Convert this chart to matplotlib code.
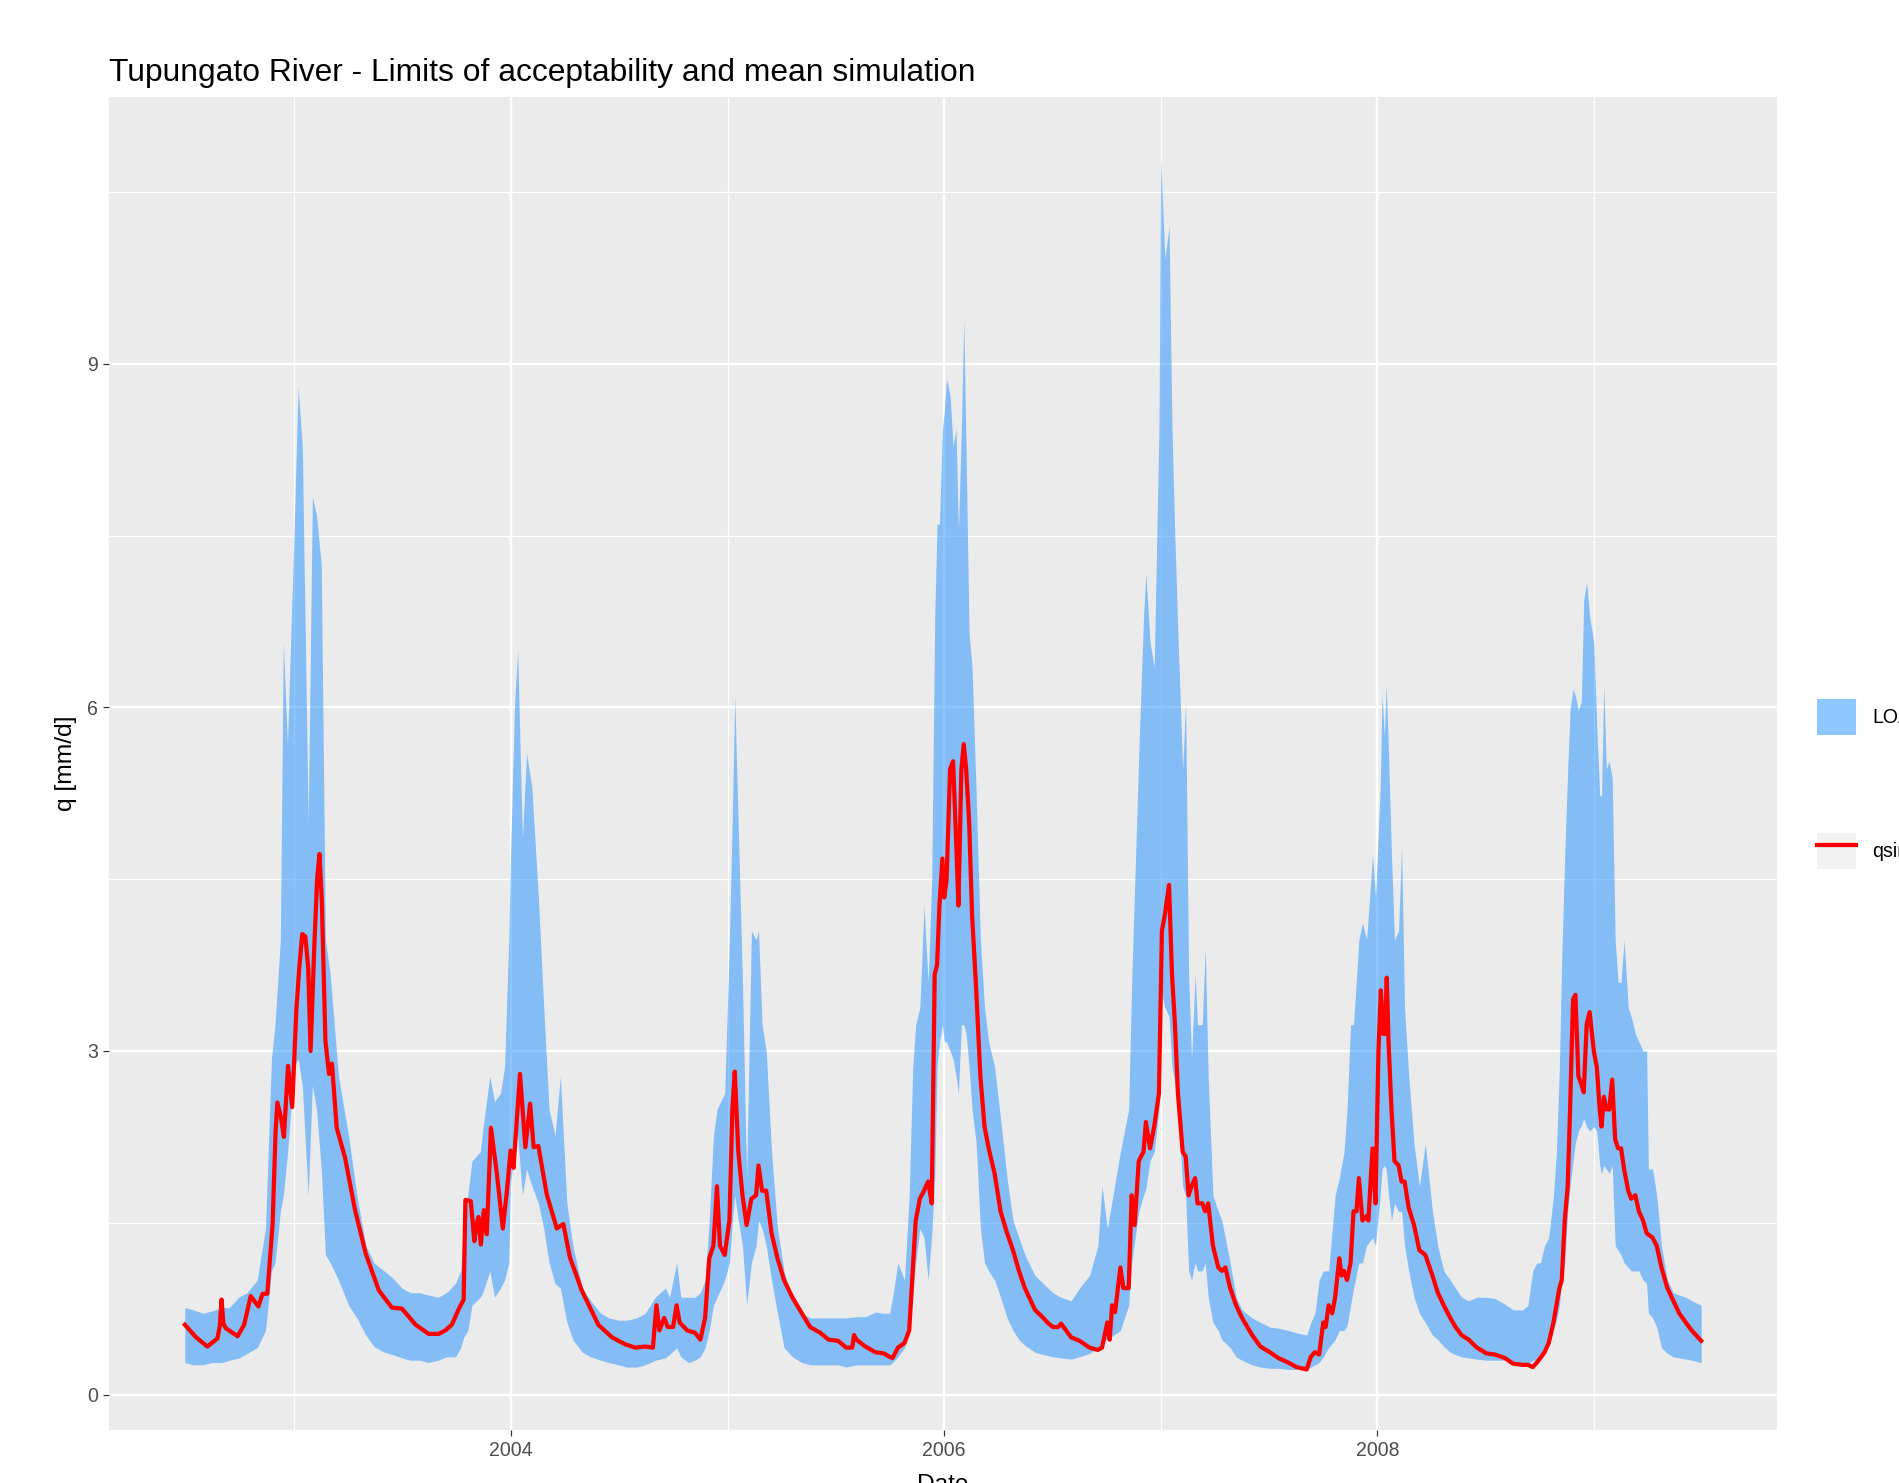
import matplotlib
matplotlib.use("Agg")
import matplotlib.pyplot as plt
import matplotlib.dates as mdates
from matplotlib.patches import Patch
from matplotlib.lines import Line2D
from matplotlib.ticker import MultipleLocator
import pandas as pd

# limits of acceptability (band): date, lower, upper  [mm/d]
band_dates = [
    "2002-07-01", "2002-07-15", "2002-08-01", "2002-08-15", "2002-09-01", "2002-09-14",
    "2002-09-30", "2002-10-14", "2002-10-31", "2002-11-14", "2002-11-24", "2002-11-30",
    "2002-12-09", "2002-12-14", "2002-12-21", "2003-01-01", "2003-01-08", "2003-01-15",
    "2003-01-25", "2003-02-01", "2003-02-08", "2003-02-16", "2003-02-23", "2003-03-03",
    "2003-03-17", "2003-04-03", "2003-04-17", "2003-05-02", "2003-05-16", "2003-06-02",
    "2003-06-16", "2003-07-02", "2003-07-16", "2003-08-01", "2003-08-15", "2003-09-01",
    "2003-09-15", "2003-09-30", "2003-10-09", "2003-10-14", "2003-10-21", "2003-10-28",
    "2003-11-11", "2003-11-16", "2003-11-27", "2003-12-05", "2003-12-15", "2003-12-22",
    "2003-12-29", "2004-01-01", "2004-01-08", "2004-01-13", "2004-01-21", "2004-01-28",
    "2004-02-06", "2004-02-17", "2004-02-26", "2004-03-06", "2004-03-16", "2004-03-25",
    "2004-04-05", "2004-04-15", "2004-05-01", "2004-05-15", "2004-06-01", "2004-06-15",
    "2004-07-01", "2004-07-15", "2004-08-01", "2004-08-15", "2004-09-01", "2004-09-18",
    "2004-09-25", "2004-10-07", "2004-10-14", "2004-10-27", "2004-11-07", "2004-11-16",
    "2004-11-24", "2004-12-01", "2004-12-08", "2004-12-14", "2004-12-27", "2005-01-04",
    "2005-01-09", "2005-01-13", "2005-01-19", "2005-01-26", "2005-02-02", "2005-02-10",
    "2005-02-18", "2005-02-22", "2005-02-28", "2005-03-07", "2005-03-16", "2005-03-26",
    "2005-04-06", "2005-04-20", "2005-05-06", "2005-05-20", "2005-06-06", "2005-06-20",
    "2005-07-06", "2005-07-20", "2005-08-06", "2005-08-21", "2005-09-07", "2005-09-21",
    "2005-10-01", "2005-10-06", "2005-10-15", "2005-10-26", "2005-11-03", "2005-11-09",
    "2005-11-14", "2005-11-21", "2005-11-28", "2005-12-05", "2005-12-11", "2005-12-16",
    "2005-12-20", "2005-12-24", "2005-12-29", "2006-01-01", "2006-01-05", "2006-01-11",
    "2006-01-16", "2006-01-21", "2006-01-25", "2006-01-30", "2006-02-03", "2006-02-07",
    "2006-02-12", "2006-02-17", "2006-02-24", "2006-03-03", "2006-03-10", "2006-03-17",
    "2006-03-27", "2006-04-06", "2006-04-17", "2006-04-27", "2006-05-07", "2006-05-17",
    "2006-06-03", "2006-06-17", "2006-07-03", "2006-07-17", "2006-08-03", "2006-08-17",
    "2006-09-03", "2006-09-17", "2006-09-24", "2006-10-03", "2006-10-25", "2006-11-08",
    "2006-11-13", "2006-11-25", "2006-12-03", "2006-12-07", "2006-12-14", "2006-12-21",
    "2006-12-29", "2007-01-01", "2007-01-08", "2007-01-15", "2007-01-20", "2007-01-25",
    "2007-01-30", "2007-02-07", "2007-02-12", "2007-02-17", "2007-02-22", "2007-02-28",
    "2007-03-04", "2007-03-12", "2007-03-17", "2007-03-22", "2007-03-30", "2007-04-08",
    "2007-04-14", "2007-04-28", "2007-05-08", "2007-05-18", "2007-06-04", "2007-06-18",
    "2007-07-04", "2007-07-18", "2007-08-04", "2007-08-18", "2007-09-04", "2007-09-11",
    "2007-09-18", "2007-09-25", "2007-10-02", "2007-10-11", "2007-10-22", "2007-10-29",
    "2007-11-06", "2007-11-11", "2007-11-17", "2007-11-22", "2007-12-01", "2007-12-07",
    "2007-12-14", "2007-12-24", "2007-12-29", "2008-01-06", "2008-01-09", "2008-01-13",
    "2008-01-16", "2008-01-20", "2008-01-25", "2008-01-30", "2008-02-06", "2008-02-11",
    "2008-02-16", "2008-02-23", "2008-03-03", "2008-03-12", "2008-03-22", "2008-04-03",
    "2008-04-12", "2008-04-22", "2008-05-03", "2008-05-12", "2008-05-22", "2008-06-03",
    "2008-06-17", "2008-07-03", "2008-07-17", "2008-08-03", "2008-08-17", "2008-09-02",
    "2008-09-11", "2008-09-19", "2008-09-26", "2008-10-02", "2008-10-09", "2008-10-16",
    "2008-10-24", "2008-10-29", "2008-11-03", "2008-11-07", "2008-11-12", "2008-11-17",
    "2008-11-21", "2008-11-26", "2008-11-30", "2008-12-05", "2008-12-10", "2008-12-14",
    "2008-12-19", "2008-12-24", "2008-12-31", "2009-01-05", "2009-01-10", "2009-01-13",
    "2009-01-17", "2009-01-21", "2009-01-26", "2009-01-31", "2009-02-05", "2009-02-10",
    "2009-02-15", "2009-02-20", "2009-02-27", "2009-03-04", "2009-03-11", "2009-03-17",
    "2009-03-24", "2009-03-30", "2009-04-02", "2009-04-09", "2009-04-16", "2009-04-24",
    "2009-05-04", "2009-05-14", "2009-05-24", "2009-06-04", "2009-06-14", "2009-06-30",
]
band_low = [
    0.28, 0.26, 0.26, 0.28, 0.28, 0.30, 0.32, 0.36, 0.41, 0.56, 1.08, 1.15,
    1.60, 1.74, 2.10, 2.86, 2.93, 2.70, 1.74, 2.70, 2.49, 1.97, 1.22, 1.15,
    1.00, 0.78, 0.67, 0.52, 0.42, 0.37, 0.35, 0.32, 0.30, 0.30, 0.28, 0.30,
    0.33, 0.33, 0.41, 0.50, 0.56, 0.78, 0.85, 0.90, 1.08, 0.85, 0.93, 1.00,
    1.15, 1.82, 2.19, 2.26, 1.74, 1.97, 1.82, 1.67, 1.45, 1.15, 0.97, 0.93,
    0.63, 0.48, 0.37, 0.33, 0.30, 0.28, 0.26, 0.24, 0.24, 0.26, 0.30, 0.32,
    0.35, 0.41, 0.33, 0.28, 0.30, 0.33, 0.41, 0.56, 0.78, 0.85, 1.00, 1.15,
    1.52, 1.74, 1.52, 1.30, 0.78, 1.15, 1.30, 1.52, 1.45, 1.30, 1.00, 0.71,
    0.41, 0.33, 0.28, 0.26, 0.26, 0.26, 0.26, 0.24, 0.26, 0.26, 0.26, 0.26,
    0.26, 0.28, 0.33, 0.41, 0.56, 0.85, 1.15, 1.45, 1.37, 1.00, 1.40, 1.89,
    2.86, 3.08, 3.23, 3.08, 3.08, 3.00, 2.93, 2.78, 2.63, 3.23, 3.23, 3.15,
    2.86, 2.49, 2.19, 1.45, 1.15, 1.08, 1.00, 0.85, 0.67, 0.56, 0.48, 0.43,
    0.37, 0.35, 0.33, 0.32, 0.31, 0.33, 0.36, 0.41, 0.45, 0.48, 0.56, 0.78,
    1.15, 1.60, 1.74, 1.80, 2.04, 2.12, 2.49, 3.53, 3.38, 3.30, 2.86, 2.71,
    2.49, 1.82, 1.74, 1.08, 1.00, 1.15, 1.08, 1.08, 1.15, 0.85, 0.63, 0.56,
    0.48, 0.41, 0.33, 0.30, 0.26, 0.24, 0.23, 0.23, 0.22, 0.22, 0.22, 0.24,
    0.26, 0.28, 0.33, 0.41, 0.48, 0.56, 0.56, 0.60, 0.78, 0.93, 1.15, 1.15,
    1.30, 1.37, 1.30, 1.74, 1.97, 2.00, 1.97, 1.74, 1.52, 1.67, 1.60, 1.60,
    1.30, 1.08, 0.85, 0.71, 0.63, 0.52, 0.48, 0.42, 0.37, 0.35, 0.33, 0.32,
    0.31, 0.30, 0.30, 0.30, 0.28, 0.26, 0.26, 0.30, 0.30, 0.33, 0.37, 0.45,
    0.56, 0.65, 0.78, 1.00, 1.15, 1.60, 1.82, 2.04, 2.20, 2.30, 2.35, 2.41,
    2.34, 2.30, 2.34, 2.30, 2.00, 1.93, 2.00, 1.97, 1.93, 2.00, 1.30, 1.26,
    1.22, 1.15, 1.11, 1.08, 1.08, 1.08, 1.00, 0.97, 0.71, 0.67, 0.59, 0.41,
    0.36, 0.33, 0.32, 0.31, 0.30, 0.28,
]
band_high = [
    0.76, 0.74, 0.71, 0.73, 0.76, 0.76, 0.85, 0.89, 1.00, 1.45, 2.93, 3.23,
    3.97, 6.57, 5.68, 7.50, 8.80, 8.28, 5.00, 7.83, 7.68, 7.24, 3.97, 3.67,
    2.78, 2.26, 1.74, 1.30, 1.15, 1.08, 1.02, 0.93, 0.89, 0.89, 0.87, 0.85,
    0.89, 0.97, 1.08, 1.50, 1.74, 2.04, 2.12, 2.34, 2.78, 2.56, 2.63, 2.86,
    3.97, 4.71, 6.05, 6.50, 4.86, 5.60, 5.30, 4.34, 3.38, 2.49, 2.26, 2.78,
    1.67, 1.30, 0.93, 0.82, 0.71, 0.67, 0.65, 0.65, 0.67, 0.71, 0.85, 0.93,
    0.85, 1.15, 0.85, 0.85, 0.85, 0.89, 1.00, 1.52, 2.26, 2.49, 2.63, 3.97,
    5.09, 6.09, 4.94, 3.60, 1.89, 4.05, 3.97, 4.05, 3.23, 3.00, 2.12, 1.45,
    1.08, 0.82, 0.71, 0.67, 0.67, 0.67, 0.67, 0.67, 0.68, 0.68, 0.72, 0.71,
    0.71, 0.85, 1.15, 1.00, 1.74, 2.86, 3.23, 3.38, 4.27, 3.60, 4.50, 6.79,
    7.60, 7.60, 8.43, 8.57, 8.87, 8.72, 8.28, 8.43, 7.54, 8.43, 9.39, 8.20,
    6.64, 6.35, 5.23, 3.97, 3.38, 3.08, 2.86, 2.41, 1.89, 1.52, 1.37, 1.22,
    1.04, 0.97, 0.89, 0.85, 0.82, 0.93, 1.04, 1.30, 1.82, 1.45, 2.12, 2.49,
    3.60, 5.60, 6.79, 7.17, 6.57, 6.35, 8.43, 10.80, 9.91, 10.20, 8.43, 7.46,
    6.64, 5.46, 6.05, 3.67, 2.93, 3.67, 3.23, 3.23, 3.90, 2.78, 1.74, 1.60,
    1.52, 1.15, 0.85, 0.74, 0.67, 0.63, 0.59, 0.58, 0.56, 0.54, 0.52, 0.63,
    0.71, 1.00, 1.08, 1.08, 1.74, 1.89, 2.12, 2.49, 3.23, 3.23, 3.97, 4.12,
    3.97, 4.71, 4.34, 5.30, 6.12, 5.75, 6.20, 5.60, 4.71, 3.97, 4.05, 4.79,
    3.38, 2.78, 2.19, 1.82, 2.19, 1.60, 1.30, 1.08, 1.00, 0.93, 0.85, 0.82,
    0.85, 0.85, 0.84, 0.79, 0.74, 0.74, 0.78, 1.08, 1.15, 1.15, 1.30, 1.37,
    1.74, 2.12, 2.86, 3.82, 4.71, 5.46, 5.98, 6.16, 6.10, 5.98, 6.05, 6.94,
    7.09, 6.79, 6.57, 5.83, 5.23, 5.23, 6.20, 5.46, 5.53, 5.38, 3.97, 3.60,
    3.60, 3.97, 3.38, 3.30, 3.15, 3.08, 3.00, 3.00, 1.97, 1.97, 1.74, 1.30,
    1.00, 0.89, 0.87, 0.85, 0.82, 0.78,
]

# mean simulation (qsim) [mm/d]
mean_dates = [
    "2002-07-01", "2002-07-20", "2002-08-08", "2002-08-25", "2002-08-29", "2002-09-01",
    "2002-09-04", "2002-09-08", "2002-09-28", "2002-10-09", "2002-10-20", "2002-11-02",
    "2002-11-09", "2002-11-17", "2002-11-26", "2002-12-01", "2002-12-04", "2002-12-10",
    "2002-12-15", "2002-12-22", "2002-12-29", "2003-01-05", "2003-01-10", "2003-01-15",
    "2003-01-20", "2003-01-25", "2003-01-29", "2003-02-04", "2003-02-09", "2003-02-13",
    "2003-02-17", "2003-02-23", "2003-03-01", "2003-03-06", "2003-03-14", "2003-03-28",
    "2003-04-14", "2003-05-02", "2003-05-24", "2003-06-15", "2003-07-02", "2003-07-25",
    "2003-08-16", "2003-09-02", "2003-09-13", "2003-09-24", "2003-10-06", "2003-10-14",
    "2003-10-17", "2003-10-26", "2003-11-01", "2003-11-05", "2003-11-08", "2003-11-12",
    "2003-11-17", "2003-11-22", "2003-11-29", "2003-12-09", "2003-12-19", "2003-12-26",
    "2004-01-01", "2004-01-06", "2004-01-17", "2004-01-26", "2004-02-03", "2004-02-09",
    "2004-02-17", "2004-03-02", "2004-03-19", "2004-03-30", "2004-04-10", "2004-04-30",
    "2004-05-28", "2004-06-20", "2004-07-12", "2004-07-29", "2004-08-15", "2004-08-28",
    "2004-09-03", "2004-09-08", "2004-09-16", "2004-09-22", "2004-10-01", "2004-10-07",
    "2004-10-12", "2004-10-25", "2004-11-07", "2004-11-16", "2004-11-24", "2004-12-01",
    "2004-12-08", "2004-12-14", "2004-12-19", "2004-12-27", "2005-01-04", "2005-01-09",
    "2005-01-13", "2005-01-19", "2005-01-26", "2005-02-02", "2005-02-10", "2005-02-18",
    "2005-02-22", "2005-02-28", "2005-03-07", "2005-03-16", "2005-03-26", "2005-04-06",
    "2005-04-20", "2005-05-06", "2005-05-20", "2005-06-06", "2005-06-20", "2005-07-06",
    "2005-07-20", "2005-07-30", "2005-08-02", "2005-08-06", "2005-08-21", "2005-09-07",
    "2005-09-21", "2005-10-01", "2005-10-06", "2005-10-15", "2005-10-26", "2005-11-03",
    "2005-11-09", "2005-11-14", "2005-11-21", "2005-11-28", "2005-12-05", "2005-12-11",
    "2005-12-16", "2005-12-20", "2005-12-24", "2005-12-29", "2006-01-01", "2006-01-05",
    "2006-01-11", "2006-01-16", "2006-01-21", "2006-01-25", "2006-01-30", "2006-02-03",
    "2006-02-07", "2006-02-12", "2006-02-17", "2006-02-24", "2006-03-03", "2006-03-10",
    "2006-03-17", "2006-03-27", "2006-04-06", "2006-04-17", "2006-04-27", "2006-05-07",
    "2006-05-17", "2006-06-03", "2006-06-17", "2006-06-24", "2006-07-03", "2006-07-12",
    "2006-07-17", "2006-08-03", "2006-08-17", "2006-09-03", "2006-09-17", "2006-09-24",
    "2006-10-03", "2006-10-07", "2006-10-11", "2006-10-16", "2006-10-25", "2006-10-30",
    "2006-11-08", "2006-11-13", "2006-11-18", "2006-11-25", "2006-12-03", "2006-12-07",
    "2006-12-14", "2006-12-21", "2006-12-29", "2007-01-03", "2007-01-08", "2007-01-15",
    "2007-01-20", "2007-01-25", "2007-01-30", "2007-02-07", "2007-02-12", "2007-02-17",
    "2007-02-22", "2007-02-28", "2007-03-04", "2007-03-12", "2007-03-17", "2007-03-22",
    "2007-03-30", "2007-04-08", "2007-04-14", "2007-04-20", "2007-04-28", "2007-05-08",
    "2007-05-18", "2007-06-04", "2007-06-18", "2007-07-04", "2007-07-18", "2007-08-04",
    "2007-08-18", "2007-09-04", "2007-09-11", "2007-09-18", "2007-09-25", "2007-10-02",
    "2007-10-06", "2007-10-11", "2007-10-17", "2007-10-22", "2007-10-29", "2007-11-02",
    "2007-11-06", "2007-11-11", "2007-11-17", "2007-11-22", "2007-11-27", "2007-12-01",
    "2007-12-07", "2007-12-14", "2007-12-17", "2007-12-24", "2007-12-29", "2008-01-03",
    "2008-01-07", "2008-01-11", "2008-01-14", "2008-01-17", "2008-01-20", "2008-01-25",
    "2008-01-30", "2008-02-06", "2008-02-11", "2008-02-16", "2008-02-23", "2008-03-03",
    "2008-03-12", "2008-03-22", "2008-04-03", "2008-04-12", "2008-04-22", "2008-05-03",
    "2008-05-12", "2008-05-22", "2008-06-03", "2008-06-17", "2008-07-03", "2008-07-17",
    "2008-08-03", "2008-08-17", "2008-09-02", "2008-09-11", "2008-09-19", "2008-09-26",
    "2008-10-02", "2008-10-09", "2008-10-16", "2008-10-24", "2008-10-29", "2008-11-03",
    "2008-11-07", "2008-11-12", "2008-11-17", "2008-11-21", "2008-11-26", "2008-11-30",
    "2008-12-05", "2008-12-10", "2008-12-14", "2008-12-19", "2008-12-24", "2008-12-31",
    "2009-01-05", "2009-01-10", "2009-01-13", "2009-01-17", "2009-01-21", "2009-01-26",
    "2009-01-31", "2009-02-05", "2009-02-10", "2009-02-15", "2009-02-20", "2009-02-27",
    "2009-03-04", "2009-03-11", "2009-03-17", "2009-03-24", "2009-03-30", "2009-04-09",
    "2009-04-16", "2009-04-24", "2009-05-04", "2009-05-14", "2009-05-24", "2009-06-04",
    "2009-06-14", "2009-06-30",
]
mean_q = [
    0.61, 0.50, 0.42, 0.49, 0.60, 0.83, 0.62, 0.58, 0.51, 0.61, 0.86, 0.77,
    0.88, 0.88, 1.49, 2.30, 2.55, 2.42, 2.25, 2.87, 2.51, 3.36, 3.73, 4.02,
    4.00, 3.73, 3.00, 3.88, 4.50, 4.72, 4.30, 3.09, 2.80, 2.89, 2.33, 2.07,
    1.61, 1.23, 0.91, 0.76, 0.75, 0.61, 0.53, 0.53, 0.56, 0.61, 0.75, 0.83,
    1.70, 1.69, 1.34, 1.50, 1.55, 1.31, 1.61, 1.40, 2.33, 1.93, 1.45, 1.78,
    2.13, 1.98, 2.80, 2.16, 2.54, 2.16, 2.17, 1.75, 1.45, 1.49, 1.20, 0.91,
    0.61, 0.50, 0.44, 0.41, 0.42, 0.41, 0.78, 0.56, 0.67, 0.59, 0.59, 0.78,
    0.63, 0.56, 0.54, 0.48, 0.67, 1.19, 1.30, 1.82, 1.30, 1.22, 1.52, 2.49,
    2.82, 2.12, 1.74, 1.48, 1.71, 1.74, 2.00, 1.78, 1.78, 1.41, 1.19, 1.00,
    0.85, 0.71, 0.59, 0.54, 0.48, 0.47, 0.41, 0.41, 0.52, 0.48, 0.42, 0.37,
    0.36, 0.33, 0.32, 0.41, 0.45, 0.56, 1.08, 1.52, 1.71, 1.78, 1.86, 1.67,
    3.67, 3.75, 4.27, 4.68, 4.34, 4.49, 5.46, 5.53, 4.86, 4.27, 5.46, 5.68,
    5.46, 5.01, 4.19, 3.53, 2.78, 2.34, 2.15, 1.93, 1.60, 1.41, 1.26, 1.08,
    0.93, 0.74, 0.67, 0.63, 0.59, 0.59, 0.62, 0.50, 0.47, 0.41, 0.39, 0.41,
    0.63, 0.48, 0.78, 0.72, 1.11, 0.93, 0.93, 1.74, 1.48, 2.04, 2.12, 2.38,
    2.15, 2.34, 2.63, 4.05, 4.19, 4.45, 3.67, 3.23, 2.63, 2.12, 2.08, 1.74,
    1.82, 1.89, 1.67, 1.67, 1.60, 1.67, 1.30, 1.11, 1.08, 1.11, 0.93, 0.78,
    0.67, 0.52, 0.42, 0.37, 0.32, 0.28, 0.24, 0.22, 0.33, 0.37, 0.35, 0.63,
    0.59, 0.78, 0.71, 0.85, 1.19, 1.04, 1.08, 1.00, 1.15, 1.60, 1.60, 1.89,
    1.52, 1.56, 1.52, 2.15, 1.67, 3.00, 3.53, 3.15, 3.15, 3.64, 3.08, 2.49,
    2.04, 2.00, 1.86, 1.86, 1.63, 1.48, 1.26, 1.22, 1.04, 0.89, 0.78, 0.67,
    0.59, 0.52, 0.48, 0.41, 0.36, 0.35, 0.32, 0.27, 0.26, 0.26, 0.24, 0.28,
    0.32, 0.37, 0.45, 0.63, 0.78, 0.93, 1.00, 1.52, 1.82, 2.49, 3.45, 3.49,
    2.78, 2.71, 2.64, 3.23, 3.34, 3.00, 2.86, 2.49, 2.34, 2.60, 2.49, 2.49,
    2.75, 2.23, 2.15, 2.15, 1.97, 1.78, 1.71, 1.74, 1.60, 1.52, 1.41, 1.37,
    1.30, 1.11, 0.93, 0.82, 0.71, 0.63, 0.56, 0.47,
]

title = "Tupungato River - Limits of acceptability and mean simulation"
band_label = "LOA"
line_label = "qsim"

band_t = pd.to_datetime(band_dates)
mean_t = pd.to_datetime(mean_dates)

panel_bg = "#EBEBEB"
fill_col = "#1E90FF"

plt.rcParams["font.family"] = ["Liberation Sans", "DejaVu Sans"]

fig = plt.figure(figsize=(1899 / 160, 1483 / 160), dpi=160)
ax = fig.add_axes([109 / 1899, 1 - 1430 / 1483, 1668 / 1899, 1333 / 1483])
ax.set_facecolor(panel_bg)
for s in ax.spines.values():
    s.set_visible(False)

ax.fill_between(band_t, band_low, band_high, color=fill_col, alpha=0.5,
                linewidth=0, zorder=2)
ax.plot(mean_t, mean_q, color="red", linewidth=1.9, zorder=3,
        solid_joinstyle="round")

# ggplot-like expansion (5%)
x0, x1 = mdates.date2num(band_t.min()), mdates.date2num(band_t.max())
dx = (x1 - x0) * 0.05
ax.set_xlim(x0 - dx, x1 + dx)
y0, y1 = min(band_low), max(band_high)
dy = (y1 - y0) * 0.05
ax.set_ylim(y0 - dy, y1 + dy)

ax.xaxis.set_major_locator(mdates.YearLocator(2))
ax.xaxis.set_minor_locator(mdates.YearLocator(1))
ax.xaxis.set_major_formatter(mdates.DateFormatter("%Y"))
ax.yaxis.set_major_locator(MultipleLocator(3))
ax.yaxis.set_minor_locator(MultipleLocator(1.5))

ax.grid(which="major", color="white", linewidth=1.1, zorder=1)
ax.grid(which="minor", color="white", linewidth=0.55, zorder=1)
ax.set_axisbelow(True)

ax.tick_params(which="major", length=6 * 72 / 160, width=0.55, color="#333333",
               labelsize=8.8, labelcolor="#4D4D4D", pad=2.2)
ax.tick_params(which="minor", length=0)

ax.set_title(title, loc="left", fontsize=14.3, color="black", pad=7)
ax.set_xlabel("Date", fontsize=11, color="black")
ax.xaxis.set_label_coords(0.5, -0.033)
ax.set_ylabel("q [mm/d]", fontsize=11, color="black")
ax.yaxis.set_label_coords(-0.019, 0.5)

fs = 8.8 * 160 / 72
h_band = Patch(facecolor=fill_col, alpha=0.5, edgecolor="none")
h_bg = Patch(facecolor="#F2F2F2", edgecolor="none")
h_line = Line2D([], [], color="red", linewidth=1.9)
fig.legend([h_band, (h_bg, h_line)], [band_label, line_label],
           loc="upper left", bbox_to_anchor=(1817 / 1899, 1 - 699 / 1483),
           frameon=False, fontsize=8.8, borderpad=0, borderaxespad=0,
           handlelength=39 / fs, handleheight=2.45, labelspacing=98 / fs,
           handletextpad=16 / fs)

fig.savefig("out.png", dpi=160, facecolor="white")
